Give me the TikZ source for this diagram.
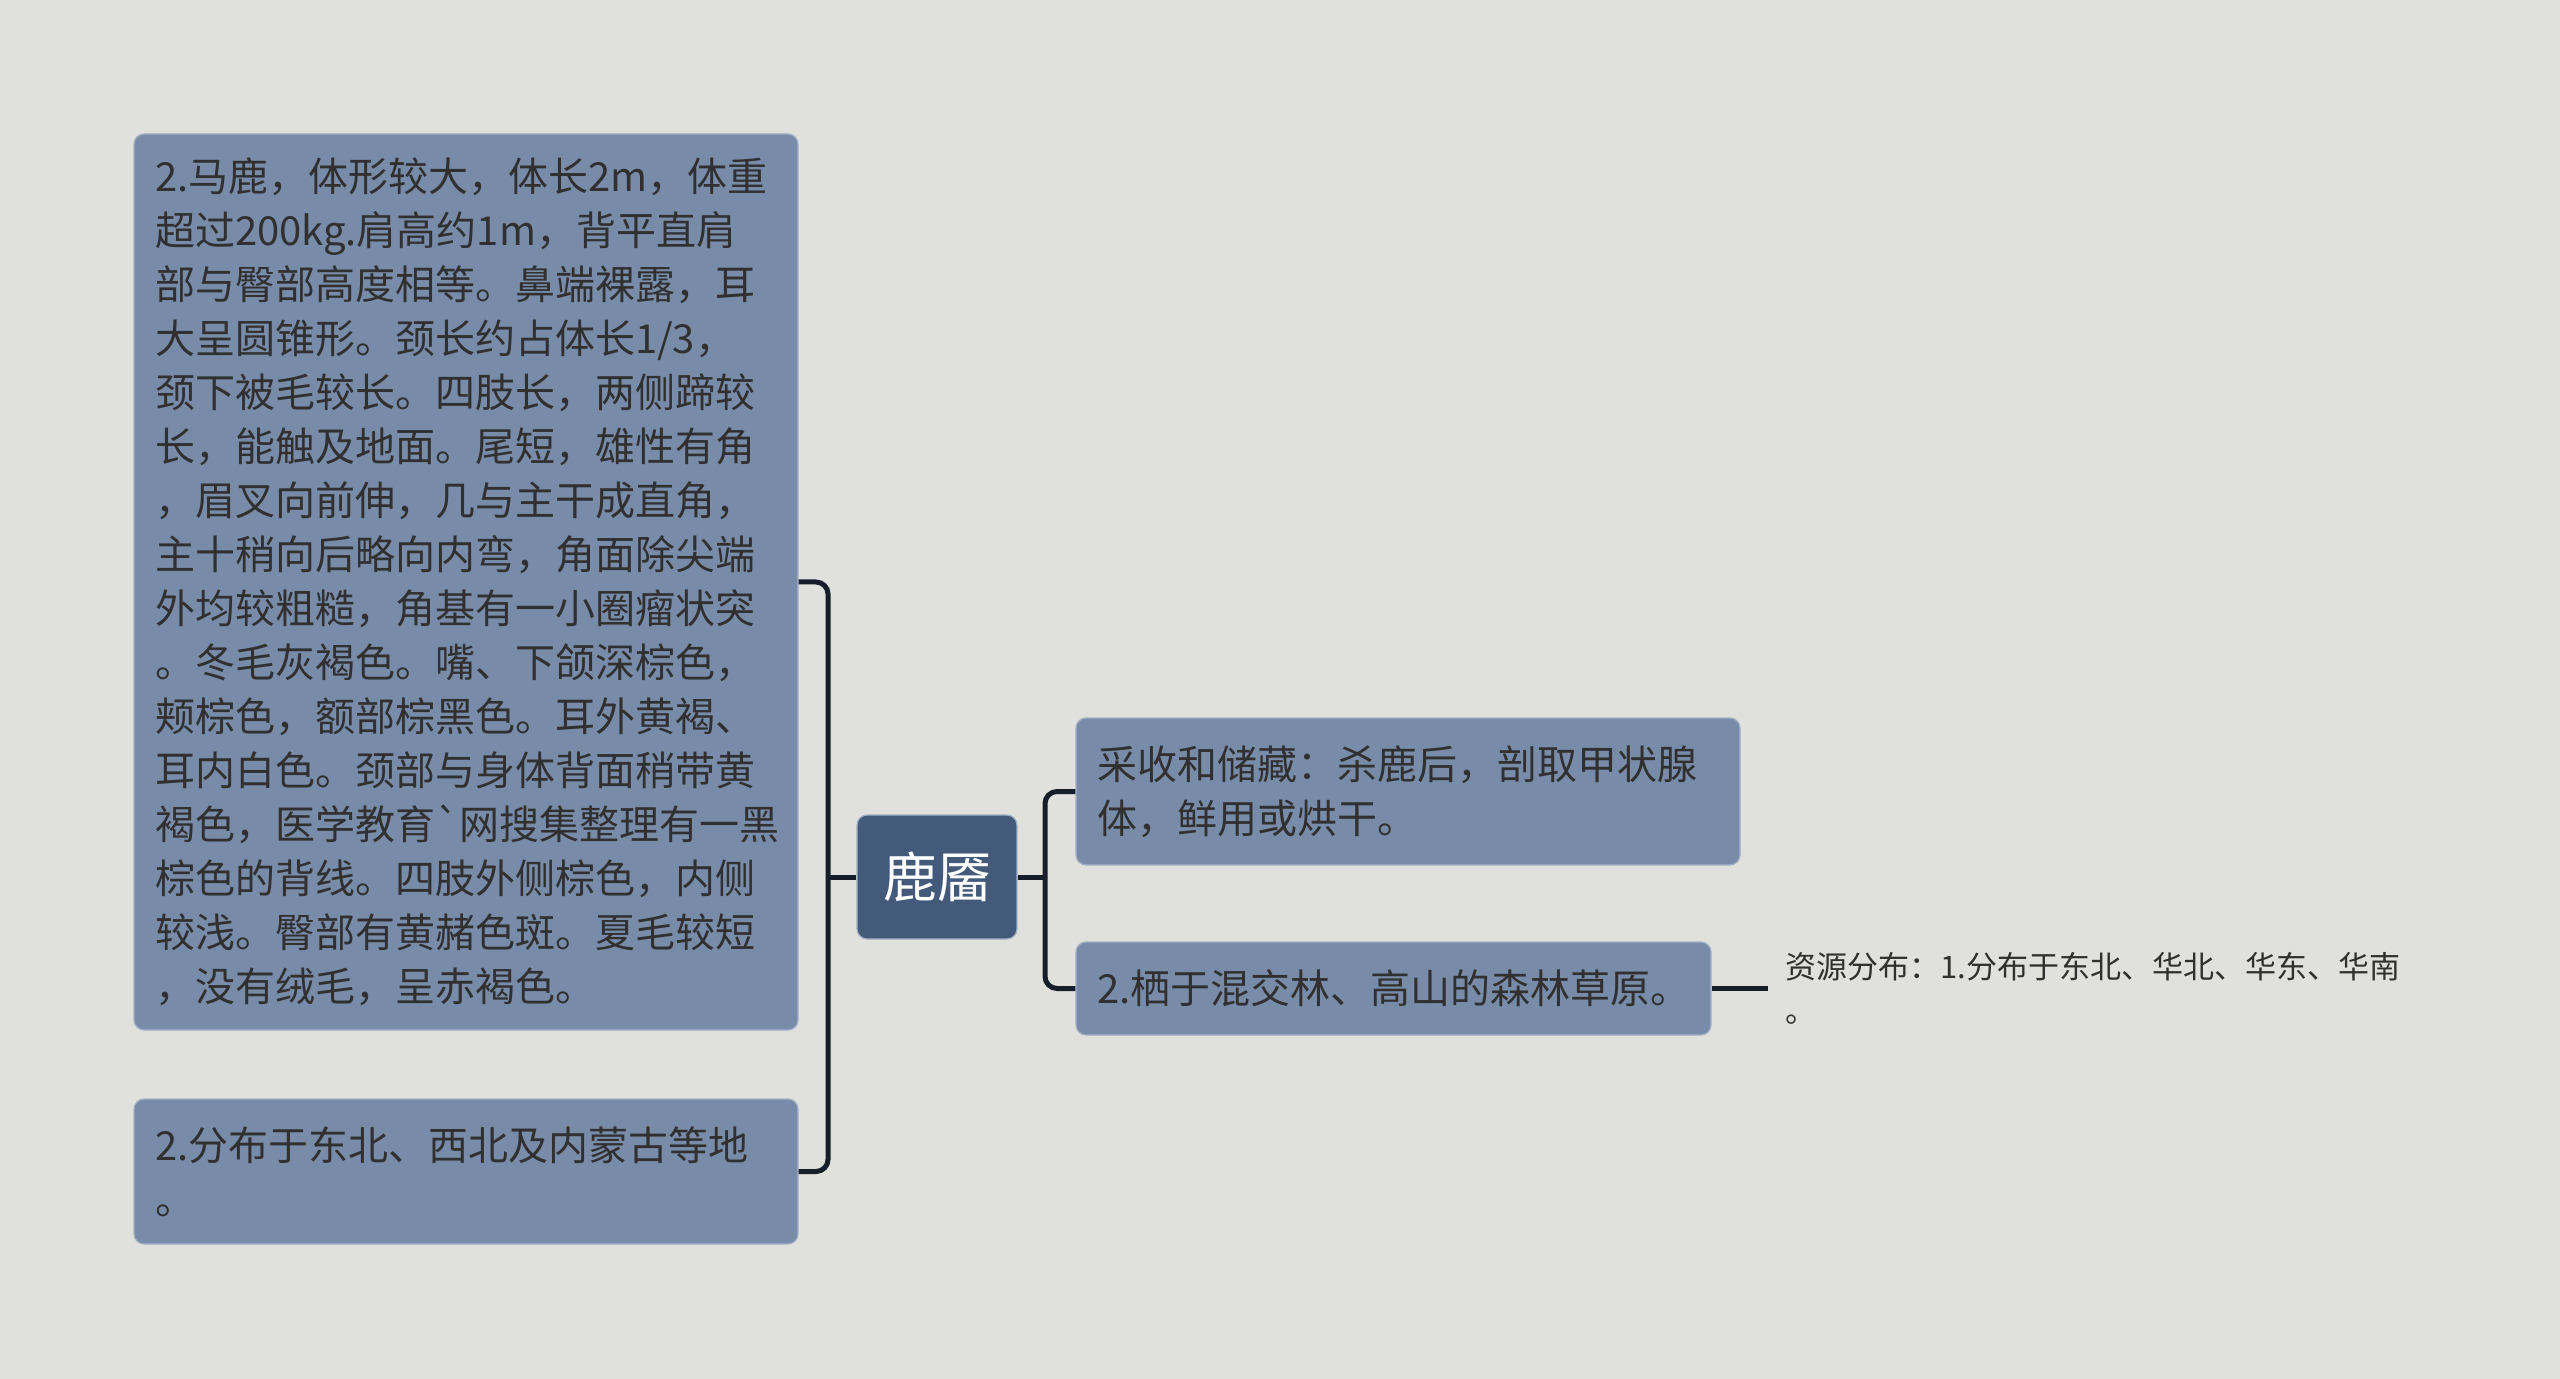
\documentclass[tikz,border=0pt]{standalone}
\usepackage{fontspec}
\setmainfont{Noto Sans CJK SC}
\newfontfamily\plaincjk{Noto Sans CJK SC}
\definecolor{bgcol}{HTML}{E0E1DC}
\definecolor{boxfill}{HTML}{788CA9}
\definecolor{boxline}{HTML}{A3B1C6}
\definecolor{rootfill}{HTML}{435A7A}
\definecolor{linecol}{HTML}{161D2B}
\definecolor{textdark}{HTML}{303030}
\begin{document}
\begin{tikzpicture}[x=0.5pt,y=-0.5pt,
    box/.style={draw=boxline,line width=0.6pt,fill=boxfill,rounded corners=5pt,
      text=textdark,align=left,inner xsep=10.5pt,inner ysep=0pt,
      font=\fontsize{20pt}{27pt}\selectfont},
    rootbox/.style={draw=boxline,line width=0.6pt,fill=rootfill,rounded corners=5pt,
      text=white,minimum width=80pt,minimum height=62pt,inner sep=0pt,
      font=\fontsize{27pt}{32pt}\selectfont},
    leafnote/.style={text=textdark,align=left,anchor=west,inner xsep=8.5pt,
      font=\fontsize{15.5pt}{22pt}\selectfont},
    link/.style={draw=linecol,line width=2.5pt,rounded corners=6pt}]
  \fill[bgcol] (0,0) rectangle (2560,1379);
  \useasboundingbox (0,0) rectangle (2560,1379);
  % root
  \node[rootbox] (root) at (937,877) {鹿靥};
  % left side
  \node[box,text width=311pt,minimum height=448pt] (descr) at (466,582)
    {2.马鹿，体形较大，体长2m，体重\\
     超过200kg.肩高约1m，背平直肩\\
     部与臀部高度相等。鼻端裸露，耳\\
     大呈圆锥形。颈长约占体长1/3，\\
     颈下被毛较长。四肢长，两侧蹄较\\
     长，能触及地面。尾短，雄性有角\\
     ，眉叉向前伸，几与主干成直角，\\
     主十稍向后略向内弯，角面除尖端\\
     外均较粗糙，角基有一小圈瘤状突\\
     。冬毛灰褐色。嘴、下颌深棕色，\\
     颊棕色，额部棕黑色。耳外黄褐、\\
     耳内白色。颈部与身体背面稍带黄\\
     褐色，医学教育{\plaincjk`}网搜集整理有一黑\\
     棕色的背线。四肢外侧棕色，内侧\\
     较浅。臀部有黄赭色斑。夏毛较短\\
     ，没有绒毛，呈赤褐色。};
  \node[box,text width=311pt,minimum height=72.5pt] (range) at (466,1171.5)
    {2.分布于东北、西北及内蒙古等地\\ 。};
  % right side
  \node[box,text width=311pt,minimum height=73.5pt] (harvest) at (1408,791.5)
    {采收和储藏：杀鹿后，剖取甲状腺\\ 体，鲜用或烘干。};
  \node[box,text width=296.5pt,minimum height=46.5pt] (habitat) at (1393.5,988.5)
    {2.栖于混交林、高山的森林草原。};
  \node[leafnote] (leaf) at (1768,988.5)
    {资源分布：1.分布于东北、华北、华东、华南\\ 。};
  % connectors
  \coordinate (lfork) at (828,877);
  \coordinate (rfork) at (1045,877);
  \draw[link] (root.west) -- (lfork);
  \draw[link] (lfork) |- (descr.east);
  \draw[link] (lfork) |- (range.east);
  \draw[link] (root.east) -- (rfork);
  \draw[link] (rfork) |- (harvest.west);
  \draw[link] (rfork) |- (habitat.west);
  \draw[link] (habitat.east) -- (leaf.west);
\end{tikzpicture}
\end{document}
